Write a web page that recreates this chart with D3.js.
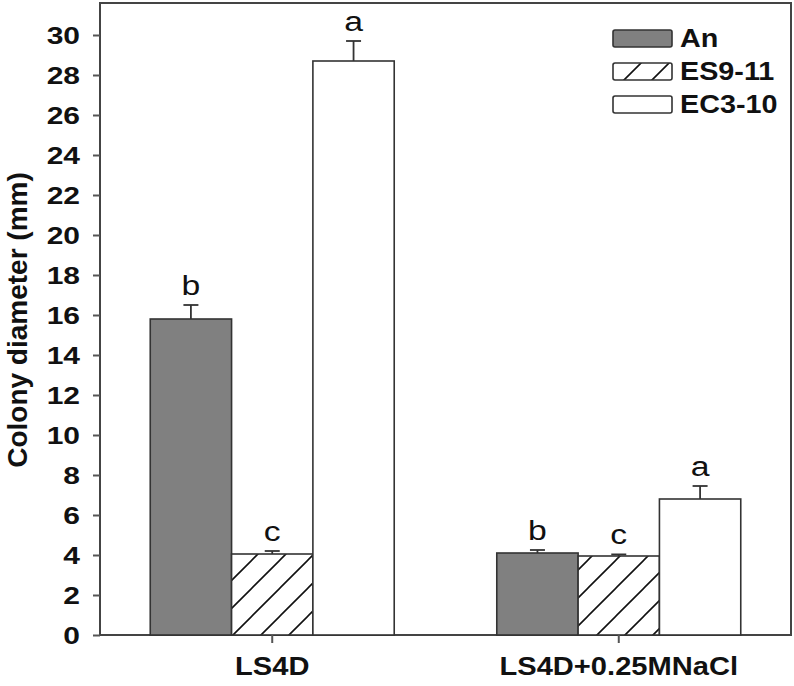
<!DOCTYPE html>
<html>
<head>
<meta charset="utf-8">
<script src="https://cdn.jsdelivr.net/npm/d3@7"></script>
<style>
body { margin: 0; background: #fff; }
text { font-family: "Liberation Sans", Arial, sans-serif; fill: #111; }
.tick-label { font-weight: bold; font-size: 24px; }
.cat-label { font-weight: bold; font-size: 26px; }
.legend-label { font-weight: bold; font-size: 25px; }
.letter { font-size: 27px; }
.title { font-weight: bold; font-size: 28px; }
</style>
</head>
<body>
<svg id="chart" width="794" height="686"></svg>
<script>
var groups = ["LS4D", "LS4D+0.25MNaCl"];
var seriesNames = ["An", "ES9-11", "EC3-10"];
var anValues = [15.8, 4.1];
var anErrors = [0.7, 0.15];
var esValues = [4.05, 3.95];
var esErrors = [0.15, 0.08];
var ecValues = [28.7, 6.8];
var ecErrors = [1.0, 0.65];
var anLetters = ["b", "b"];
var esLetters = ["c", "c"];
var ecLetters = ["a", "a"];
var yTicks = [0, 2, 4, 6, 8, 10, 12, 14, 16, 18, 20, 22, 24, 26, 28, 30];

function drawChart() {
    var svg = d3.select("#chart");
    var left = 100, right = 791, top = 3, bottom = 635;
    var sx = 1.25; // text looks horizontally stretched in the original

    var seriesValues = [anValues, esValues, ecValues];
    var seriesErrors = [anErrors, esErrors, ecErrors];
    var seriesLetters = [anLetters, esLetters, ecLetters];

    var data = [];
    groups.forEach(function(g, gi) {
        seriesNames.forEach(function(s, si) {
            data.push({
                group: g,
                series: s,
                value: seriesValues[si][gi],
                err: seriesErrors[si][gi],
                letter: seriesLetters[si][gi]
            });
        });
    });

    var x0 = d3.scaleBand()
        .domain(groups)
        .range([left, right])
        .paddingInner(0.296)
        .paddingOuter(0.145);

    var x1 = d3.scaleBand()
        .domain(seriesNames)
        .range([0, x0.bandwidth()]);

    var y = d3.scaleLinear()
        .domain([0, 31.6])
        .range([bottom, top]);

    var defs = svg.append("defs");
    var pat = defs.append("pattern")
        .attr("id", "hatch")
        .attr("patternUnits", "userSpaceOnUse")
        .attr("width", 28)
        .attr("height", 28);
    pat.append("rect").attr("width", 28).attr("height", 28).attr("fill", "#fff");
    pat.append("path")
        .attr("d", "M-7,7 L7,-7 M0,28 L28,0 M21,35 L35,21")
        .attr("stroke", "#111")
        .attr("stroke-width", 1.6);

    var fills = {"An": "#808080", "ES9-11": "url(#hatch)", "EC3-10": "#fff"};

    // frame
    svg.append("rect")
        .attr("x", left)
        .attr("y", top)
        .attr("width", right - left)
        .attr("height", bottom - top)
        .attr("fill", "none")
        .attr("stroke", "#444")
        .attr("stroke-width", 2);

    var bars = svg.append("g").selectAll("g")
        .data(data)
        .enter().append("g");

    bars.append("rect")
        .attr("x", function(d) { return x0(d.group) + x1(d.series); })
        .attr("y", function(d) { return y(d.value); })
        .attr("width", x1.bandwidth())
        .attr("height", function(d) { return y(0) - y(d.value); })
        .attr("fill", function(d) { return fills[d.series]; })
        .attr("stroke", "#333")
        .attr("stroke-width", 1.6);

    var cx = function(d) { return x0(d.group) + x1(d.series) + x1.bandwidth() / 2; };

    bars.append("line")
        .attr("x1", cx)
        .attr("x2", cx)
        .attr("y1", function(d) { return y(d.value); })
        .attr("y2", function(d) { return y(d.value + d.err); })
        .attr("stroke", "#333")
        .attr("stroke-width", 1.8);

    bars.append("line")
        .attr("x1", function(d) { return cx(d) - 7.5; })
        .attr("x2", function(d) { return cx(d) + 7.5; })
        .attr("y1", function(d) { return y(d.value + d.err); })
        .attr("y2", function(d) { return y(d.value + d.err); })
        .attr("stroke", "#333")
        .attr("stroke-width", 1.8);

    bars.append("text")
        .attr("class", "letter")
        .attr("text-anchor", "middle")
        .attr("transform", function(d) {
            return "translate(" + cx(d) + "," + (y(d.value + d.err) - 10) + ") scale(" + sx + ",1)";
        })
        .text(function(d) { return d.letter; });

    // y axis
    var yAxis = svg.append("g")
        .attr("transform", "translate(" + left + ",0)")
        .call(d3.axisLeft(y).tickValues(yTicks).tickSize(7).tickSizeOuter(0));
    yAxis.select(".domain").remove();
    yAxis.selectAll(".tick line").attr("stroke", "#555").attr("stroke-width", 2);
    yAxis.selectAll(".tick text")
        .attr("class", "tick-label")
        .attr("x", -20 / sx)
        .attr("dy", "0.36em")
        .attr("transform", "scale(" + sx + ",1)");

    // x axis
    var xAxis = svg.append("g")
        .attr("transform", "translate(0," + bottom + ")")
        .call(d3.axisBottom(x0).tickSize(8).tickSizeOuter(0));
    xAxis.select(".domain").remove();
    xAxis.selectAll(".tick line").attr("stroke", "#555").attr("stroke-width", 2);
    xAxis.selectAll(".tick text")
        .attr("class", "cat-label")
        .attr("y", 40)
        .attr("dy", 0)
        .attr("transform", "scale(1.12,1)");

    svg.append("text")
        .attr("class", "title")
        .attr("text-anchor", "middle")
        .attr("transform", "translate(27,320) rotate(-90)")
        .text("Colony diameter (mm)");

    // legend
    var legend = svg.append("g")
        .attr("transform", "translate(613,30)");

    var item = legend.selectAll("g")
        .data(seriesNames)
        .enter().append("g")
        .attr("transform", function(d, i) { return "translate(0," + (i * 33) + ")"; });

    item.append("rect")
        .attr("width", 59)
        .attr("height", 17)
        .attr("rx", 2)
        .attr("fill", function(d) { return fills[d]; })
        .attr("stroke", "#333")
        .attr("stroke-width", 1.6);

    item.append("text")
        .attr("class", "legend-label")
        .attr("transform", "translate(67,17) scale(1.15,1)")
        .text(function(d) { return d; });
}

drawChart();
</script>
</body>
</html>
